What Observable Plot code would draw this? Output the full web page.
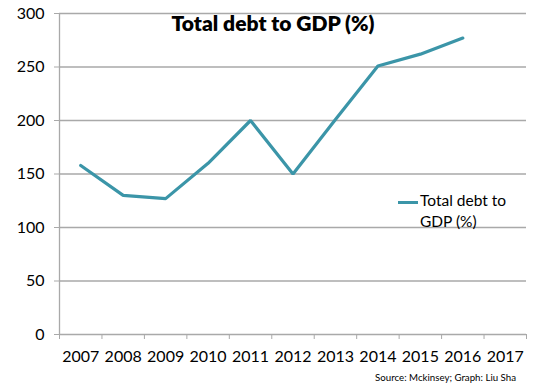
<!DOCTYPE html>
<html>
<head>
<meta charset="utf-8">
<script src="https://cdn.jsdelivr.net/npm/d3@7"></script>
<script src="https://cdn.jsdelivr.net/npm/@observablehq/plot@0.6"></script>
<style>
  html, body { margin: 0; padding: 0; background: #fff; }
  #wrap { position: relative; width: 533px; height: 386px; font-family: Lato, "Open Sans", sans-serif; }
  #wrap svg g[aria-label="y-axis tick"], #wrap svg g[aria-label="x-axis tick"] { stroke: #a9a9a9; }
  .title { position: absolute; left: 0; width: 546px; top: 10px; text-align: center; font-weight: 800; font-size: 21px; color: #000; }
  .legend { position: absolute; left: 398px; top: 191px; font-size: 15.5px; line-height: 21px; color: #000; }
  .legend .sw { position: absolute; left: 0; top: 9.5px; width: 20px; height: 3px; background: #3B95A8; }
  .legend .lab { position: absolute; left: 22px; top: -1px; white-space: nowrap; }
  .source { position: absolute; right: 17px; top: 371px; font-size: 9.7px; color: #000; }
</style>
</head>
<body>
<div id="wrap"></div>
<script>
const years = [2007, 2008, 2009, 2010, 2011, 2012, 2013, 2014, 2015, 2016];
const axisYears = [2007, 2008, 2009, 2010, 2011, 2012, 2013, 2014, 2015, 2016, 2017];
const debtToGDP = [158, 130, 127, 160, 200, 150, 201, 251, 262, 277];
const yTicks = [0, 50, 100, 150, 200, 250, 300];
const titleText = "Total debt to GDP (%)";
const seriesName = "Total debt to GDP (%)";
const sourceText = "Source: Mckinsey;  Graph: Liu Sha";

const data = years.map((y, i) => ({year: y, value: debtToGDP[i]}));
const x0 = axisYears[0] - 0.5, x1 = axisYears[axisYears.length - 1] + 0.5;
const boundaries = axisYears.map(y => y - 0.5).concat([x1]);

const chart = Plot.plot({
  width: 533,
  height: 386,
  marginLeft: 59,
  marginRight: 7,
  marginTop: 13,
  marginBottom: 52,
  style: {fontFamily: "Lato, 'Open Sans', sans-serif", fontSize: "14px", color: "#000", background: "#fff"},
  x: {domain: [x0, x1]},
  y: {domain: [0, 300]},
  marks: [
    Plot.ruleY(yTicks, {stroke: "#a9a9a9", strokeWidth: 1.3, strokeOpacity: 1}),
    Plot.ruleX([x0], {y1: 0, y2: 300, stroke: "#a9a9a9", strokeWidth: 1.3}),
    Plot.axisY({ticks: yTicks, tickSize: 5, tickPadding: 10, tickFormat: d => d, label: null, fontSize: 16}),
    Plot.axisX({ticks: boundaries, tickSize: 5, tickFormat: () => "", label: null}),
    Plot.axisX({ticks: axisYears, tickSize: 0, tickPadding: 16, tickFormat: d => String(d), label: null, fontSize: 16}),
    Plot.line(data, {x: "year", y: "value", stroke: "#3B95A8", strokeWidth: 3.2, strokeLinejoin: "miter"})
  ]
});

const wrap = document.getElementById("wrap");
wrap.appendChild(chart);

const t = document.createElement("div");
t.className = "title"; t.textContent = titleText; wrap.appendChild(t);

const lg = document.createElement("div");
lg.className = "legend";
const sw = document.createElement("div"); sw.className = "sw"; lg.appendChild(sw);
const lab = document.createElement("div"); lab.className = "lab";
const words = seriesName.split(" ");
const l1 = document.createElement("div"); l1.textContent = words.slice(0, 3).join(" ");
const l2 = document.createElement("div"); l2.textContent = words.slice(3).join(" ");
lab.appendChild(l1); lab.appendChild(l2);
lg.appendChild(lab);
wrap.appendChild(lg);

const s = document.createElement("div");
s.className = "source"; s.textContent = sourceText; wrap.appendChild(s);
</script>
</body>
</html>
